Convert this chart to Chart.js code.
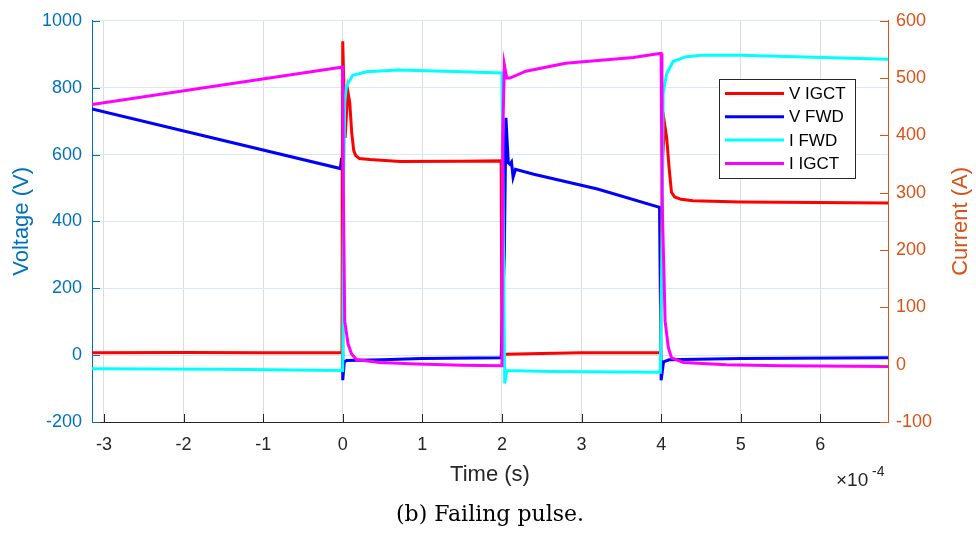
<!DOCTYPE html>
<html lang="en">

<head>
    <meta charset="UTF-8">
    <script src="https://cdn.jsdelivr.net/npm/chart.js@4.4.1/dist/chart.umd.min.js"></script>
    <title>Failing pulse</title>
    <style>
        html, body { margin: 0; padding: 0; background: #fff; }
    </style>
</head>

<body>
    <canvas id="pulseChart" width="976" height="534"></canvas>

<script type="text/javascript">
    // time values are in units of 1e-4 s (the axis shows x10^-4)
    var timeTicks = [-3, -2, -1, 0, 1, 2, 3, 4, 5, 6];
    var voltTicks = [-200, 0, 200, 400, 600, 800, 1000];
    var ampTicks = [-100, 0, 100, 200, 300, 400, 500, 600];

    var seriesNames = ['V IGCT', 'V FWD', 'I FWD', 'I IGCT'];

    // V IGCT (V)
    var tVigct = [-3.15, -2, -1, -0.01, 0.0, 0.03, 0.063, 0.088, 0.113, 0.138, 0.163, 0.21, 0.34, 0.72, 1.5, 1.99,
        2.0, 2.05, 2.5, 3.0, 3.99, 4.02, 4.045, 4.07, 4.1, 4.13, 4.17, 4.25, 4.4, 5.0, 6.85];
    var vIgct = [7, 8, 7, 7, 939, 650, 790, 755, 665, 612, 597, 588, 585, 579, 580, 581,
        5, 3, 5, 7, 7, 600, 690, 650, 560, 487, 473, 466, 462, 458, 455];

    // V FWD (V)
    var tVfwd = [-3.15, -0.03, -0.015, -0.005, 0.0, 0.02, 0.05, 0.5, 1.0, 1.99, 2.03, 2.05, 2.08, 2.1, 2.12, 2.14, 2.17,
        2.4, 3.2, 3.98, 4.0, 4.03, 4.1, 5.0, 6.85];
    var vFwd = [736, 558, 590, 560, -75, -20, -16, -14, -10, -8, 300, 710, 575, 571, 578, 532, 556,
        541, 497, 442, -75, -20, -14, -10, -8];

    // I FWD (A)
    var tIfwd = [-3.15, -1.5, -0.01, 0.0, 0.01, 0.025, 0.046, 0.126, 0.3, 0.7, 1.5, 2.0, 2.02, 2.035, 2.06, 2.6, 3.99,
        4.01, 4.025, 4.07, 4.15, 4.3, 4.5, 5.0, 5.8, 6.85];
    var iFwd = [-7, -8, -10, -10, 300, 457, 486, 505, 511, 514, 511, 509, 200, -33, -10, -12, -13,
        200, 474, 508, 529, 537, 540, 540, 537, 533];

    // I IGCT (A)
    var tIigct = [-3.15, -0.02, 0.0, 0.008, 0.025, 0.067, 0.11, 0.17, 0.46, 0.93, 1.5, 2.0, 2.01, 2.03, 2.06, 2.1, 2.3,
        2.8, 3.65, 3.98, 4.0, 4.01, 4.05, 4.09, 4.13, 4.28, 4.82, 5.5, 6.85];
    var iIgct = [454, 519, 519, 300, 76, 36, 19, 9, 4, 1, -1, -2, 400, 523, 500, 500, 512,
        526, 536, 543, 543, 300, 76, 30, 12, 4, 0, -2, -3];

    var lineColours = ['#FF0000', '#0000FF', '#00FFFF', '#FF00FF'];
    var voltBlue = '#0072BD';
    var ampOrange = '#D95319';
    var axisDark = '#262626';
    var sansFamily = "'Liberation Sans', Arial, sans-serif";

    function pts(t, v) {
        return t.map(function (x, i) { return { x: x, y: v[i] }; });
    }

    // draws inward ticks, right label, exponent, legend and caption
    var matlabLook = {
        id: 'matlabLook',
        afterDraw: function (chart) {
            var ctx = chart.ctx, area = chart.chartArea;
            var sx = chart.scales.x, sl = chart.scales.yV, sr = chart.scales.yA;
            ctx.save();
            ctx.lineWidth = 1;

            ctx.strokeStyle = axisDark;
            timeTicks.forEach(function (v) {
                var px = Math.round(sx.getPixelForValue(v)) + 0.5;
                ctx.beginPath(); ctx.moveTo(px, area.bottom); ctx.lineTo(px, area.bottom - 8); ctx.stroke();
            });
            ctx.strokeStyle = voltBlue;
            voltTicks.forEach(function (v) {
                var py = Math.round(sl.getPixelForValue(v)) + 0.5;
                ctx.beginPath(); ctx.moveTo(area.left, py); ctx.lineTo(area.left + 8, py); ctx.stroke();
            });
            ctx.strokeStyle = ampOrange;
            ampTicks.forEach(function (v) {
                var py = Math.round(sr.getPixelForValue(v)) + 0.5;
                ctx.beginPath(); ctx.moveTo(area.right, py); ctx.lineTo(area.right - 8, py); ctx.stroke();
            });

            // right axis title, reads bottom to top like the left one
            ctx.save();
            ctx.translate(961, (area.top + area.bottom) / 2);
            ctx.rotate(-Math.PI / 2);
            ctx.font = '22px ' + sansFamily;
            ctx.fillStyle = ampOrange;
            ctx.textAlign = 'center';
            ctx.textBaseline = 'middle';
            ctx.fillText('Current (A)', 0, 0);
            ctx.restore();

            // x10^-4 exponent
            ctx.fillStyle = axisDark;
            ctx.textAlign = 'left';
            ctx.textBaseline = 'alphabetic';
            ctx.font = '19px ' + sansFamily;
            ctx.fillText('\u00d710', 836, 486);
            ctx.font = '14px ' + sansFamily;
            ctx.fillText('-4', 872, 476);

            // legend box
            var lx = 719.5, ly = 79.5, lw = 136, lh = 99;
            ctx.fillStyle = '#ffffff';
            ctx.fillRect(lx, ly, lw, lh);
            ctx.strokeStyle = '#262626';
            ctx.strokeRect(lx, ly, lw, lh);
            ctx.font = '17px ' + sansFamily;
            ctx.textBaseline = 'middle';
            chart.data.datasets.forEach(function (ds, i) {
                var y = 93.5 + i * 23.3;
                ctx.strokeStyle = ds.borderColor;
                ctx.lineWidth = 3;
                ctx.beginPath(); ctx.moveTo(725, y); ctx.lineTo(784, y); ctx.stroke();
                ctx.fillStyle = '#000000';
                ctx.fillText(ds.label, 789, y + 1);
            });

            // caption
            ctx.font = "22px 'DejaVu Serif', 'Liberation Serif', serif";
            ctx.fillStyle = '#000000';
            ctx.textAlign = 'center';
            ctx.textBaseline = 'middle';
            ctx.fillText('(b) Failing pulse.', 490, 515);
            ctx.restore();
        }
    };

    var chartDiv = document.getElementById('pulseChart');
    var myChart = new Chart(chartDiv, {
        type: 'line',
        data: {
            datasets: [
                { label: seriesNames[0], data: pts(tVigct, vIgct), borderColor: lineColours[0], yAxisID: 'yV', order: 2 },
                { label: seriesNames[1], data: pts(tVfwd, vFwd), borderColor: lineColours[1], yAxisID: 'yV', order: 3 },
                { label: seriesNames[2], data: pts(tIfwd, iFwd), borderColor: lineColours[2], yAxisID: 'yA', order: 1 },
                { label: seriesNames[3], data: pts(tIigct, iIgct), borderColor: lineColours[3], yAxisID: 'yA', order: 0 }
            ]
        },
        options: {
            responsive: false,
            animation: false,
            layout: { padding: { top: 17, left: 0, right: 0, bottom: 0 } },
            elements: {
                point: { radius: 0 },
                line: { borderWidth: 3, tension: 0, fill: false }
            },
            plugins: {
                legend: { display: false },
                tooltip: { enabled: false }
            },
            scales: {
                x: {
                    type: 'linear',
                    min: -3.15,
                    max: 6.85,
                    afterFit: function (s) { s.height = 112; },
                    afterBuildTicks: function (s) { s.ticks = timeTicks.map(function (v) { return { value: v }; }); },
                    ticks: {
                        color: axisDark,
                        font: { family: sansFamily, size: 18 },
                        padding: 12,
                        maxRotation: 0,
                        callback: function (v) { return String(v); }
                    },
                    grid: { color: '#dcdcdc', drawTicks: false },
                    border: { color: axisDark, width: 1 },
                    title: {
                        display: true,
                        text: 'Time (s)',
                        color: axisDark,
                        font: { family: sansFamily, size: 22 },
                        padding: { top: 0, bottom: 46 }
                    }
                },
                yV: {
                    type: 'linear',
                    position: 'left',
                    min: -200,
                    max: 1000,
                    afterFit: function (s) { s.width = 92; },
                    afterBuildTicks: function (s) { s.ticks = voltTicks.map(function (v) { return { value: v }; }); },
                    ticks: {
                        color: voltBlue,
                        font: { family: sansFamily, size: 18 },
                        padding: 10,
                        callback: function (v) { return String(v); }
                    },
                    grid: { color: '#dbe8f3', drawTicks: false },
                    border: { color: voltBlue, width: 1 },
                    title: {
                        display: true,
                        text: 'Voltage (V)',
                        color: voltBlue,
                        font: { family: sansFamily, size: 22 },
                        padding: { top: 9, bottom: 0 }
                    }
                },
                yA: {
                    type: 'linear',
                    position: 'right',
                    min: -100,
                    max: 600,
                    afterFit: function (s) { s.width = 88; },
                    afterBuildTicks: function (s) { s.ticks = ampTicks.map(function (v) { return { value: v }; }); },
                    ticks: {
                        color: ampOrange,
                        font: { family: sansFamily, size: 18 },
                        padding: 8,
                        callback: function (v) { return String(v); }
                    },
                    grid: { display: false, drawTicks: false },
                    border: { color: ampOrange, width: 1 }
                }
            }
        },
        plugins: [matlabLook]
    });
</script>
</body>

</html>
